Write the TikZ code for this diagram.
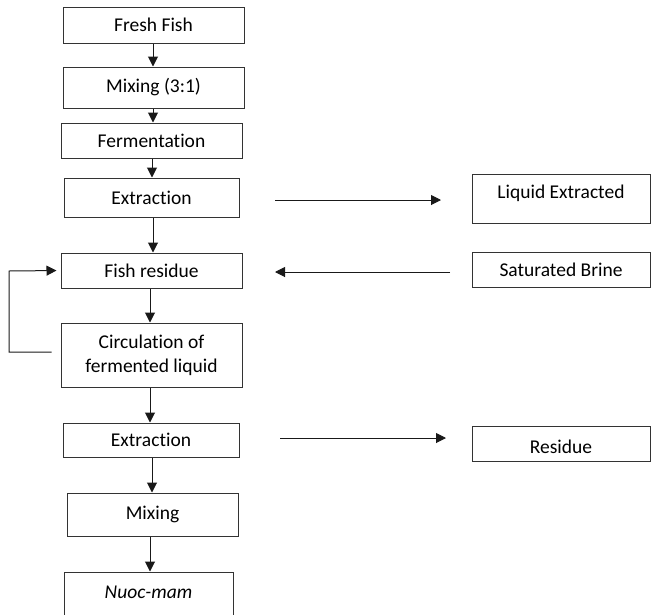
\documentclass[tikz,border=0pt]{standalone}
\usepackage{fontspec}
\setmainfont[Ligatures=NoCommon]{Carlito}
\usetikzlibrary{arrows.meta}
\tikzset{
  box/.style={draw=black!80, line width=1pt, inner sep=0pt, align=center,
    font=\fontsize{19.5}{24}\selectfont, text=black},
  txt/.style={inner sep=0pt, font=\fontsize{19.5}{24}\selectfont, text=black},
  conn/.style={draw=black!90, line width=1pt, -{Triangle[length=10pt,width=10pt]}}
}
\begin{document}
\begin{tikzpicture}[x=1pt,y=-1pt]
\useasboundingbox (0,0) rectangle (651,614);
\clip (0,0) rectangle (651,614);
% left column
\node[box, minimum width=181, minimum height=36] (fresh) at (153.5,25) {Fresh Fish};
\node[box, minimum width=181, minimum height=41] (mix1) at (153.5,87.5) {Mixing (3:1)};
\node[box, minimum width=181, minimum height=35] (ferm) at (151.5,140.5) {Fermentation};
\node[box, minimum width=175, minimum height=39] (ext1) at (151.5,197.5) {Extraction};
\node[box, minimum width=181, minimum height=35] (resid) at (151.5,270.5) {Fish residue};
\node[box, minimum width=181, minimum height=64] (circ) at (151.5,355) {Circulation of\\fermented liquid};
\node[box, minimum width=176, minimum height=34] (ext2) at (151,440) {Extraction};
\node[box, minimum width=171, minimum height=43] (mix2) at (152.5,514.5) {Mixing};
\node[box, minimum width=169, minimum height=48] (nuoc) at (148.5,596) {};
\node[txt] (nuoctext) at (148.5,592) {\textit{Nuoc-mam}};
% right column
\node[box, minimum width=178, minimum height=49] (liq) at (561,198.5) {};
\node[txt] (liqtext) at (561,193) {Liquid Extracted};
\node[box, minimum width=178, minimum height=35] (brine) at (561,269.5) {Saturated Brine};
\node[box, minimum width=178, minimum height=35] (res) at (561,443.5) {};
\node[txt] (restext) at (561,446.5) {Residue};
% free-end coordinates
\coordinate (a1s) at (275,200);
\coordinate (a1e) at (441,200);
\coordinate (a2s) at (450,272);
\coordinate (a2e) at (275,272);
\coordinate (a3s) at (280,438);
\coordinate (a3e) at (446,438);
\coordinate (loopA) at (9,352);
\coordinate (loopB) at (9,271);
% vertical arrows
\draw[conn] (fresh.south -| 153,0) -- (mix1.north -| 153,0);
\draw[conn] (mix1.south -| 153,0) -- (ferm.north -| 153,0);
\draw[conn] (ferm.south -| 152,0) -- (ext1.north -| 152,0);
\draw[conn] (ext1.south -| 153,0) -- (resid.north -| 153,0);
\draw[conn] (resid.south -| 150,0) -- (circ.north -| 150,0);
\draw[conn] (circ.south -| 150,0) -- (ext2.north -| 150,0);
\draw[conn] (ext2.south -| 152,0) -- (mix2.north -| 152,0);
\draw[conn] (mix2.south -| 150,0) -- (nuoc.north -| 150,0);
% horizontal arrows
\draw[conn] (a1s) -- (a1e);
\draw[conn] (a2s) -- (a2e);
\draw[conn] (a3s) -- (a3e);
% loop
\draw[conn, shorten >=4pt] ([xshift=-9pt,yshift=3pt]circ.west) -- (loopA) -- (loopB) -- (resid.west);
\end{tikzpicture}
\end{document}
